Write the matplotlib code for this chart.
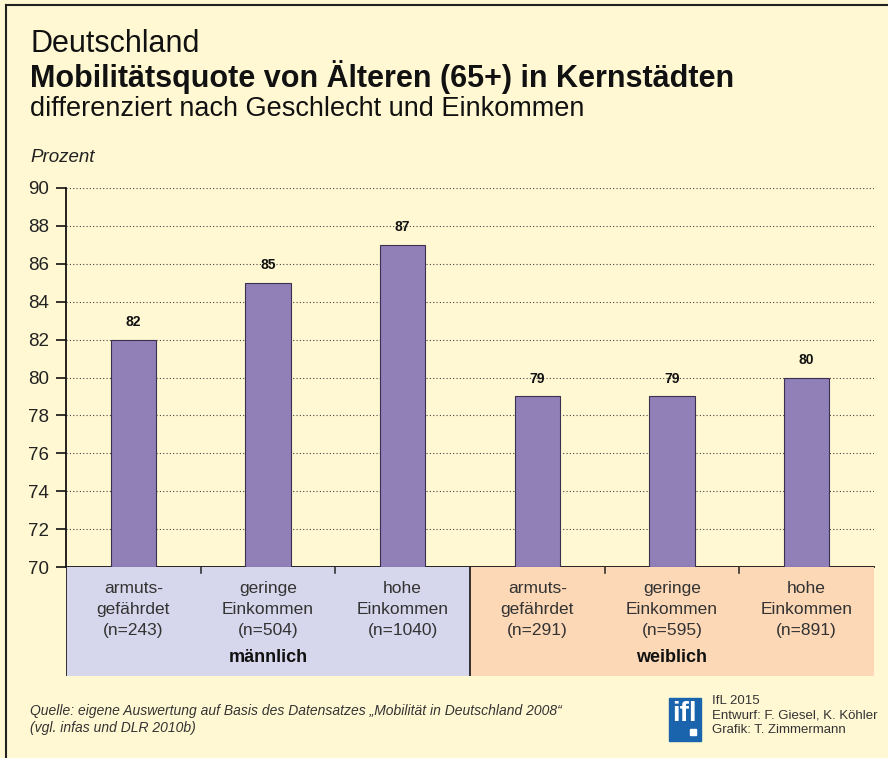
import matplotlib
matplotlib.use("Agg")
import matplotlib.pyplot as plt
from matplotlib.patches import Rectangle
from matplotlib.lines import Line2D

categories = [
    "armuts-\ngefährdet\n(n=243)",
    "geringe\nEinkommen\n(n=504)",
    "hohe\nEinkommen\n(n=1040)",
    "armuts-\ngefährdet\n(n=291)",
    "geringe\nEinkommen\n(n=595)",
    "hohe\nEinkommen\n(n=891)",
]
values = [82, 85, 87, 79, 79, 80]
groups = ["männlich", "weiblich"]
group_size = 3
yticks = list(range(70, 92, 2))

BG = "#fff8d2"
BAR = "#917fb8"
MALE = "#d6d6ec"
FEMALE = "#fcd8b6"

plt.rcParams["font.family"] = ["Liberation Sans", "DejaVu Sans"]

W, H = 888, 758
fig = plt.figure(figsize=(W / 100, H / 100), dpi=100, facecolor=BG)


def fx(px):
    return px / W


def fy(py):
    return 1 - py / H


# frame lines (top and left)
fig.add_artist(Line2D([fx(6), fx(6)], [fy(5), 0], color="#222", lw=1.5))
fig.add_artist(Line2D([fx(6), 1], [fy(5), fy(5)], color="#222", lw=1.5))

x_left, x_right = 66, 874
y_top, y_bot, y_box = 188, 567, 676

ax = fig.add_axes([fx(x_left), fy(y_bot), fx(x_right - x_left), (y_bot - y_top) / H])
ax.set_facecolor("none")
xs = list(range(len(values)))
ax.bar(xs, [v - 70 for v in values], width=0.335, bottom=70, color=BAR,
       edgecolor="#3a3050", linewidth=0.8, zorder=3)
for x, v in zip(xs, values):
    ax.text(x, v + 0.55, str(v), ha="center", va="bottom", fontsize=10,
            fontweight="bold", color="#111")
ax.set_xlim(-0.5, len(values) - 0.5)
ax.set_ylim(70, 90)
ax.set_yticks(yticks)
ax.set_yticklabels([str(t) for t in yticks], fontsize=13.5, color="#222")
ax.set_xticks([])
ax.tick_params(axis="y", direction="out", length=7, width=1.2, color="#111", pad=5)
for t in yticks[1:]:
    ax.axhline(t, color="#444", lw=0.8, ls=(0, (1, 2)), zorder=1)
for s in ["top", "right"]:
    ax.spines[s].set_visible(False)
for s in ["left", "bottom"]:
    ax.spines[s].set_linewidth(1.3)
    ax.spines[s].set_color("#111")

# category box below the axis
lab = fig.add_axes([fx(x_left), fy(y_box), fx(x_right - x_left), (y_box - y_bot) / H])
lab.set_xlim(-0.5, len(values) - 0.5)
lab.set_ylim(0, 1)
lab.axis("off")
for gi, g in enumerate(groups):
    x0 = gi * group_size - 0.5
    lab.add_patch(Rectangle((x0, 0), group_size, 1, color=[MALE, FEMALE][gi], lw=0))
    lab.text(x0 + group_size / 2, 0.17, g, ha="center", va="center", fontsize=13,
             fontweight="bold", color="#111")
lab.plot([-0.5, -0.5], [0, 1], color="#222", lw=1.3)
lab.plot([2.5, 2.5], [0, 1], color="#222", lw=1.3)
for b in [0.5, 1.5, 3.5, 4.5]:
    lab.plot([b, b], [1, 1 - 6 / 109], color="#222", lw=1.1)
for x, c in zip(xs, categories):
    lab.text(x, 0.61, c, ha="center", va="center", fontsize=12.5, color="#333",
             linespacing=1.5)

# titles
fig.text(fx(30), fy(44), "Deutschland", fontsize=22, va="center", color="#111")
fig.text(fx(30), fy(77), "Mobilitätsquote von Älteren (65+) in Kernstädten", fontsize=22,
         fontweight="bold", va="center", color="#111")
fig.text(fx(30), fy(109), "differenziert nach Geschlecht und Einkommen", fontsize=19.5,
         va="center", color="#111")
fig.text(fx(30), fy(158), "Prozent", fontsize=13.5, style="italic", va="center", color="#222")

# footer
fig.text(fx(30), fy(711), "Quelle: eigene Auswertung auf Basis des Datensatzes \u201eMobilität in Deutschland 2008\u201c",
         fontsize=10, style="italic", va="center", color="#333")
fig.text(fx(30), fy(728), "(vgl. infas und DLR 2010b)", fontsize=10, style="italic",
         va="center", color="#333")

fig.add_artist(Rectangle((fx(669), fy(741)), fx(32), 43 / H, color="#1a63ad",
                         transform=fig.transFigure))
fig.text(fx(684), fy(714), "ifl", fontsize=20, fontweight="bold", color="white",
         ha="center", va="center")
fig.add_artist(Rectangle((fx(690), fy(735)), fx(6), 6 / H, color="white",
                         transform=fig.transFigure))
for i, line in enumerate(["IfL 2015", "Entwurf: F. Giesel, K. Köhler", "Grafik: T. Zimmermann"]):
    fig.text(fx(712), fy(701 + i * 14.5), line, fontsize=9.5, va="center", color="#333")

fig.savefig("out.png", dpi=100, facecolor=BG)
